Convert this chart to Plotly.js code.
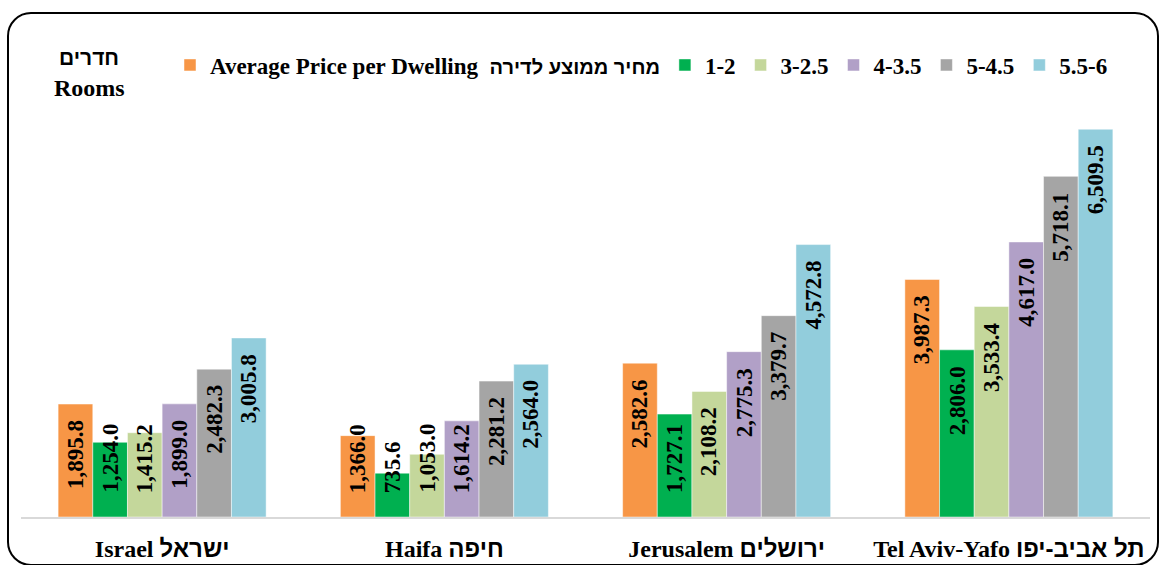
<!DOCTYPE html>
<html>
<head>
<meta charset="utf-8">
<script src="https://cdn.plot.ly/plotly-3.0.1.min.js"></script>
<style>
  html, body { margin: 0; padding: 0; background: #fff; }
  #wrap { position: relative; width: 1161px; height: 565px; overflow: hidden; }
  #chart { width: 1161px; height: 565px; }
  #frame { position: absolute; left: 7px; top: 12px; width: 1148px; height: 550px;
           border: 2px solid #000; border-radius: 24px; pointer-events: none; }
</style>
</head>
<body>
<div id="wrap">
  <div id="chart"></div>
  <div id="frame"></div>
</div>
<script>
// ---- data ----
const categories = ["Israel ישראל", "Haifa חיפה", "Jerusalem ירושלים", "Tel Aviv-Yafo תל אביב-יפו"];
const seriesNames = ["Average Price per Dwelling\u00a0\u00a0מחיר ממוצע לדירה", "1-2", "3-2.5", "4-3.5", "5-4.5", "5.5-6"];
const avgPrice = [1895.8, 1366.0, 2582.6, 3987.3];
const rooms1to2 = [1254.0, 735.6, 1727.1, 2806.0];
const rooms2_5to3 = [1415.2, 1053.0, 2108.2, 3533.4];
const rooms3_5to4 = [1899.0, 1614.2, 2775.3, 4617.0];
const rooms4_5to5 = [2482.3, 2281.2, 3379.7, 5718.1];
const rooms5_5to6 = [3005.8, 2564.0, 4572.8, 6509.5];
const seriesValues = [avgPrice, rooms1to2, rooms2_5to3, rooms3_5to4, rooms4_5to5, rooms5_5to6];
const colors = ["#F79646", "#00B050", "#C4D79B", "#B1A0C7", "#A5A5A5", "#92CDDC"];

// ---- layout params ----
const W = 1161, H = 565;
const margin = {l: 21, r: 11, t: 100, b: 48};
const yMax = 7000;
const bargap = 0.263;
const boldSerif = "Liberation Serif, Times New Roman, serif";
const hebFont = "Liberation Sans, DejaVu Sans, Arial, sans-serif";
const labelFont = {family: boldSerif, size: 23, color: "#000", weight: "bold"};

// wrap Hebrew runs in a bold sans span (like Arial Bold Hebrew in the original)
function heb(s, size) {
  const sz = size ? ";font-size:" + size + "px" : "";
  return s.replace(/([\u0590-\u05FF](?:[\u0590-\u05FF \-]*[\u0590-\u05FF])?)/g,
    '<span style="font-family:' + hebFont + ';font-weight:bold' + sz + '">$1</span>');
}

const traces = seriesValues.map((vals, j) => ({
  type: "bar",
  name: heb(seriesNames[j], 20),
  x: categories,
  y: vals,
  marker: {color: colors[j], line: {width: 0.6, color: "rgba(255,255,255,0.8)"}},
  hoverinfo: "skip"
}));

// value labels (rotated, Excel "inside end" style)
const plotH = H - margin.t - margin.b;
const plotW = W - margin.l - margin.r;
const pxPerUnit = plotH / yMax;
const barW = (1 - bargap) / seriesValues.length;
function fmt(v) {
  return v.toLocaleString("en-US", {minimumFractionDigits: 1, maximumFractionDigits: 1});
}
function textLen(s) {
  let n = 0;
  for (const ch of s) n += (ch === "," || ch === ".") ? 0.25 : 0.5;
  return n * labelFont.size;
}
const annotations = [];
seriesValues.forEach((vals, j) => {
  vals.forEach((v, i) => {
    const s = fmt(v);
    const barPx = v * pxPerUnit;
    const topPad = 14, bottomPad = 22;
    const xi = i + (j - (seriesValues.length - 1) / 2) * barW;
    const fitsTop = barPx - topPad - textLen(s) >= bottomPad;
    annotations.push({
      x: xi, y: fitsTop ? v : 0, xref: "x", yref: "y",
      text: "<b>" + s + "</b>", showarrow: false, textangle: -90,
      xanchor: "center", yanchor: fitsTop ? "top" : "bottom",
      yshift: fitsTop ? -topPad : bottomPad,
      font: labelFont
    });
  });
});
// "Rooms" header
annotations.push({
  xref: "paper", yref: "paper", x: (89 - margin.l) / plotW, y: 1 + (margin.t - 58) / plotH,
  text: heb("חדרים"), showarrow: false, xanchor: "center", yanchor: "middle",
  font: {family: hebFont, size: 21, color: "#000", weight: "bold"}
});
annotations.push({
  xref: "paper", yref: "paper", x: (89 - margin.l) / plotW, y: 1 + (margin.t - 88) / plotH,
  text: "<b>Rooms</b>", showarrow: false, xanchor: "center", yanchor: "middle",
  font: {family: boldSerif, size: 24, color: "#000", weight: "bold"}
});

const layout = {
  width: W, height: H,
  margin: margin,
  paper_bgcolor: "#fff", plot_bgcolor: "#fff",
  barmode: "group", bargap: bargap, bargroupgap: 0,
  showlegend: true,
  legend: {
    orientation: "h", xref: "paper", yref: "paper",
    x: (170 - margin.l) / plotW, xanchor: "left",
    y: 1 + (margin.t - 65) / plotH, yanchor: "middle",
    font: {family: boldSerif, size: 23, color: "#000", weight: "bold"},
    itemwidth: 30, traceorder: "normal", bgcolor: "rgba(0,0,0,0)"
  },
  xaxis: {
    type: "category", showgrid: false, zeroline: false,
    showline: true, linecolor: "#D9D9D9", linewidth: 2,
    tickvals: categories, ticktext: categories.map(c => heb(c)),
    ticks: "", tickfont: {family: boldSerif, size: 24, color: "#000", weight: "bold"},
    ticklabelstandoff: 9, fixedrange: true
  },
  yaxis: {
    range: [0, yMax], visible: false, showgrid: false, zeroline: false, fixedrange: true
  },
  annotations: annotations
};

Plotly.newPlot("chart", traces, layout, {displayModeBar: false, staticPlot: true});
</script>
</body>
</html>
